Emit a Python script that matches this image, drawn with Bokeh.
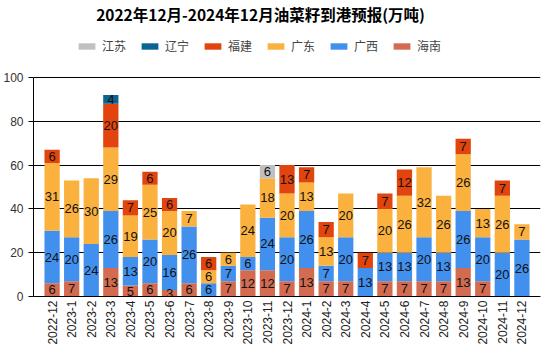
from bokeh.plotting import figure
from bokeh.models import FactorRange, Range1d, Legend, LegendItem, ColumnDataSource, FixedTicker, Label
from bokeh.core.properties import value
from bokeh.embed import file_html
from bokeh.resources import INLINE
import math

months = ["2022-12", "2023-1", "2023-2", "2023-3", "2023-4", "2023-5", "2023-6", "2023-7",
          "2023-8", "2023-9", "2023-10", "2023-11", "2023-12", "2024-1", "2024-2", "2024-3",
          "2024-4", "2024-5", "2024-6", "2024-7", "2024-8", "2024-9", "2024-10", "2024-11", "2024-12"]
hainan =   [6, 7, 0, 13, 5, 6, 3, 6, 0, 7, 12, 12, 7, 13, 7, 7, 0, 7, 7, 7, 7, 13, 7, 0, 0]
guangxi =  [24, 20, 24, 26, 13, 20, 16, 26, 6, 7, 6, 24, 20, 26, 7, 20, 13, 13, 13, 20, 13, 26, 20, 20, 26]
guangdong = [31, 26, 30, 29, 19, 25, 20, 7, 6, 6, 24, 18, 20, 13, 13, 20, 0, 20, 26, 32, 26, 26, 13, 26, 7]
fujian =   [6, 0, 0, 20, 7, 6, 6, 0, 6, 0, 0, 0, 13, 7, 7, 0, 7, 7, 12, 0, 0, 7, 0, 7, 0]
liaoning = [0, 0, 0, 4, 0, 0, 0, 0, 0, 0, 0, 0, 0, 0, 0, 0, 0, 0, 0, 0, 0, 0, 0, 0, 0]
jiangsu =  [0, 0, 0, 0, 0, 0, 0, 0, 0, 0, 0, 6, 0, 0, 0, 0, 0, 0, 0, 0, 0, 0, 0, 0, 0]

series_names = ["海南", "广西", "广东", "福建", "辽宁", "江苏"]
series_vals = [hainan, guangxi, guangdong, fujian, liaoning, jiangsu]
colors = ["#D36B50", "#4290EE", "#FBB13E", "#E2440D", "#0B6593", "#C0C0C0"]
y_ticks = [0, 20, 40, 60, 80, 100]
title_text = "2022年12月-2024年12月油菜籽到港预报(万吨)"

# layout constants (pixels)
TOP = 0           # frame top
AXIS_TOP = 77     # pixel row of the value 100
BOTTOM = 296      # pixel row of the value 0
LEFT = 31
y_max = 100 * (BOTTOM - TOP) / (BOTTOM - AXIS_TOP)

data = {"month": months}
for n, v in zip(series_names, series_vals):
    data[n] = v
src = ColumnDataSource(data)

p = figure(width=542, height=349, output_backend="svg", toolbar_location=None,
           x_range=FactorRange(*months, range_padding=0.45, range_padding_units="absolute"),
           y_range=Range1d(0, y_max),
           min_border_left=LEFT, min_border_right=2, min_border_bottom=349 - BOTTOM,
           min_border_top=TOP)

renderers = p.vbar_stack(series_names, x="month", width=0.78, source=src,
                         color=colors, line_color=None)

# value labels
lx, ly, lt = [], [], []
for i, m in enumerate(months):
    base = 0
    for v in series_vals:
        val = v[i]
        if val > 0:
            lx.append(m)
            ly.append(base + val / 2)
            lt.append(str(val))
        base += val
p.text(x=lx, y=ly, text=lt, text_align="center", text_baseline="middle",
       text_font_size="13px", text_color="#111111", text_font=value("Liberation Sans"))

# chart title
p.add_layout(Label(x=258 - LEFT, y=BOTTOM - 13, x_units="screen", y_units="screen",
                   text=title_text, text_align="center", text_baseline="middle",
                   text_font="Noto Sans CJK SC", text_font_size="15.5px",
                   text_font_style="bold", text_color="#000000"))

items = [LegendItem(label=series_names[k], renderers=[renderers[k]]) for k in [5, 4, 3, 2, 1, 0]]
legend = Legend(items=items, orientation="horizontal", location=(43, BOTTOM - 54),
                glyph_width=21, glyph_height=8, label_text_font_size="12px",
                label_text_font="Noto Sans CJK SC", label_standoff=5, spacing=13,
                border_line_color=None, background_fill_alpha=0, padding=0, margin=0)
p.add_layout(legend, "center")

p.xgrid.grid_line_color = None
p.ygrid.grid_line_color = "#000000"
p.ygrid.grid_line_width = 1
p.ygrid.ticker = FixedTicker(ticks=y_ticks)
p.yaxis.ticker = FixedTicker(ticks=y_ticks)
p.yaxis.bounds = (0, 100)
p.outline_line_color = None

p.yaxis.axis_line_color = "#000000"
p.yaxis.major_tick_line_color = "#000000"
p.yaxis.major_tick_out = 5
p.yaxis.major_tick_in = 0
p.yaxis.minor_tick_line_color = None
p.yaxis.major_label_text_font = "Liberation Sans"
p.yaxis.major_label_text_font_size = "12px"
p.yaxis.major_label_text_color = "#333333"
p.yaxis.major_label_standoff = 5

p.xaxis.axis_line_color = "#000000"
p.xaxis.major_tick_line_color = None
p.xaxis.major_tick_out = 0
p.xaxis.major_tick_in = 0
p.xaxis.major_label_orientation = math.pi / 2
p.xaxis.major_label_text_font = "Liberation Sans"
p.xaxis.major_label_text_font_size = "12px"
p.xaxis.major_label_text_color = "#222222"
p.xaxis.major_label_standoff = 4

open("out.html", "w").write(file_html(p, INLINE))
